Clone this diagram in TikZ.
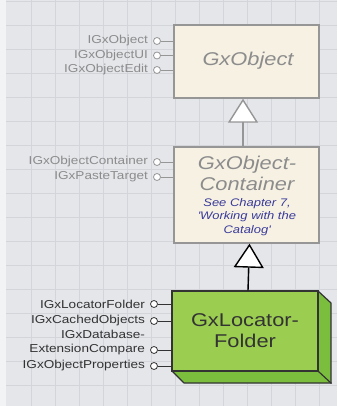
\documentclass[tikz,border=0pt]{standalone}
\usepackage{fontspec}
\usetikzlibrary{positioning,arrows.meta}
\newfontfamily\gxfont[FakeStretch=1.18]{Liberation Sans}
\definecolor{gridbg}{HTML}{E4E6EA}
\definecolor{gridln}{HTML}{D3D5DA}
\definecolor{edgebg}{HTML}{F2F3F5}
\definecolor{beige}{HTML}{F6F1E3}
\definecolor{greyline}{HTML}{969696}
\definecolor{greytext}{HTML}{8C8C8C}
\definecolor{notecol}{HTML}{3A3A9A}
\definecolor{lime}{HTML}{9BCD50}
\definecolor{limedark}{HTML}{7BBE3E}
\definecolor{boxline}{HTML}{333333}

\begin{document}
\begin{tikzpicture}[x=1pt,y=-1pt,
    iface/.style={font=\gxfont\fontsize{11.5}{14.5}\selectfont, inner sep=0pt, align=right},
    pin/.style={circle, draw, fill=white, minimum size=7pt, inner sep=0pt, line width=0.8pt},
    title/.style={font=\gxfont\fontsize{18.5}{21}\selectfont, inner sep=0pt, align=center},
    note/.style={font=\gxfont\fontsize{11}{13.5}\selectfont\itshape, inner sep=0pt, align=center, text=notecol},
    oldbox/.style={draw=greyline, line width=1.4pt, fill=beige, minimum width=145pt, inner sep=0pt},
    newbox/.style={draw=boxline, line width=1.2pt, fill=lime, minimum width=146pt, minimum height=80pt, inner sep=0pt},
    isa/.style={line width=1.4pt, -{Triangle[length=24pt, width=30pt, fill=white]}}]
    \useasboundingbox (0,0) rectangle (337,406);
    \fill[edgebg] (0,0) rectangle (337,406);
    \fill[gridbg] (6,0) rectangle (337,406);
    \foreach \gx in {31,55,...,319} \draw[gridln, line width=0.8pt] (\gx,0) -- (\gx,406);
    \foreach \gy in {1,25,...,385} \draw[gridln, line width=0.8pt] (6,\gy) -- (337,\gy);

    \node[oldbox, minimum height=73pt] (obj) at (246.5,61.5) {};
    \node[title, text=greytext, font=\gxfont\fontsize{18.5}{21}\selectfont\itshape] (objT) at (248,61) {GxObject};

    \node[oldbox, minimum height=96pt] (cont) at (246.5,195) {};
    \node[title, text=greytext, font=\gxfont\fontsize{18.5}{21}\selectfont\itshape, anchor=north] (contT) at (247,155.5) {GxObject-\\Container};
    \node[note, anchor=north] (contN) at (247,198) {See Chapter 7,\\\textquotesingle Working with the\\Catalog\textquotesingle};

    \fill[limedark, draw=boxline, line width=1.2pt, line join=round] (318,291) -- (331,303) -- (331,383) -- (184,383) -- (172,371) -- (318,371) -- cycle;
    \node[newbox, title, text=boxline] (loc) at (245,331) {GxLocator-\\Folder};
    \draw[boxline, line width=1.2pt] (loc.south east) -- ++(13,12);

    \draw[isa, greyline] ([xshift=-3.5]cont.north) -- ([xshift=-3.5]obj.south);
    \draw[isa, black] ([xshift=3]loc.north) -- ([xshift=3]cont.south);

    \foreach \nm/\py/\txt in {a/41/IGxObject, b/55.5/IGxObjectUI, c/70/IGxObjectEdit} {
        \node[pin, draw=greyline] (pin\nm) at (157,\py) {};
        \node[iface, text=greytext, left=5pt of pin\nm] (lbl\nm) {\txt};
        \draw[greyline, line width=0.8pt] (pin\nm) -- (pin\nm -| obj.west);
    }
    \foreach \nm/\py/\txt in {d/162/IGxObjectContainer, e/177/IGxPasteTarget} {
        \node[pin, draw=greyline] (pin\nm) at (157,\py) {};
        \node[iface, text=greytext, left=5pt of pin\nm] (lbl\nm) {\txt};
        \draw[greyline, line width=0.8pt] (pin\nm) -- (pin\nm -| cont.west);
    }
    \foreach \nm/\py/\txt in {f/304/IGxLocatorFolder, g/321/IGxCachedObjects, h/366/IGxObjectProperties} {
        \node[pin, draw=boxline] (pin\nm) at (154,\py) {};
        \node[iface, text=boxline, left=5pt of pin\nm] (lbl\nm) {\txt};
        \draw[boxline, line width=0.8pt] (pin\nm) -- (pin\nm -| loc.west);
    }
    \node[pin, draw=boxline] (pinx) at (154,350) {};
    \node[iface, text=boxline, left=5pt of pinx, yshift=7.25pt] (lblx) {IGxDatabase-\\ExtensionCompare};
    \draw[boxline, line width=0.8pt] (pinx) -- (pinx -| loc.west);
\end{tikzpicture}
\end{document}
